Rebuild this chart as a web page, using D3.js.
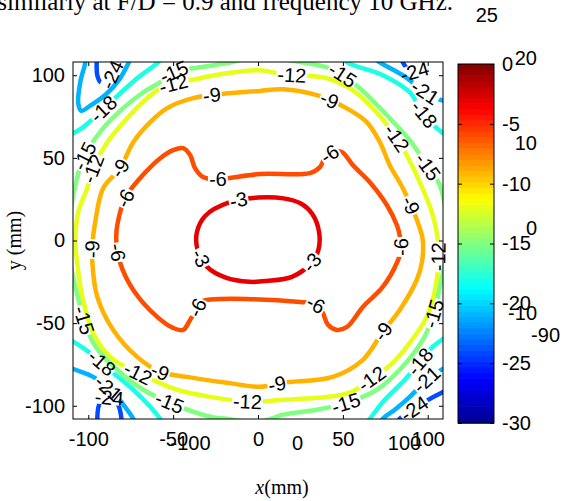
<!DOCTYPE html>
<html>
<head>
<meta charset="utf-8">
<script src="https://cdn.jsdelivr.net/npm/d3@7"></script>
<style>
  body { margin: 0; background: #fff; }
  svg { display: block; }
</style>
</head>
<body>
<div id="chart"></div>
<script>
// contour levels and tick labels
const levels = [-3, -6, -9, -12, -15, -18, -21, -24];
const xTicks = [-100, -50, 0, 50, 100];
const yTicks = [-100, -50, 0, 50, 100];
const cbTicks = [0, -5, -10, -15, -20, -25, -30];
const cbRange = [-30, 0];
// stray labels of a second figure printed on top
const ghostXTicks = [-100, 0, 100];
const ghostCbTicks = [20, 10, 0, -10];

// contour lines, in mm [x, y]
const c3 = [[0,26],[15,25.5],[25,22.5],[32,16],[36,5],[35.5,-6],[31,-14],[20,-22],[5,-24.5],[-5,-25],
  [-19,-22.5],[-30,-16],[-35.5,-6],[-36,5],[-31,15],[-17,23]];
const c6 = [[1,40.2],[30.6,40.8],[36.5,44.4],[39.4,49.8],[44.1,53.5],[49.4,53.5],[55.9,45.6],[65.9,35.3],
  [75.9,21.5],[81.8,9.4],[83.5,3],[84.2,-5.7],[81.8,-13.6],[73.5,-28.1],[61.8,-40.2],[52.4,-52.3],
  [46.5,-54.1],[41.2,-51],[38.2,-43.8],[34.7,-39],[24.7,-37.2],[-34.1,-37.2],[-35.9,-40.8],[-40,-48],
  [-44.1,-54.1],[-50,-52.9],[-59.4,-46.2],[-73.5,-29.9],[-81.2,-13.6],[-83.5,0],[-82.9,9.4],[-78.2,25.7],
  [-69.4,37.8],[-57.6,49.8],[-50,54.7],[-44.1,55.9],[-40,51.7],[-37.1,43.8],[-32.4,38.4],[-24.1,37.2]];
const c9 = [[1,90.5],[14.7,91.5],[34.7,87.9],[54.1,78.9],[64.1,71.6],[71.8,59.5],[77.6,45.6],[85.3,31.7],
  [95.3,7.6],[97.1,0],[96.5,-13.6],[93.5,-23.9],[83.5,-42],[73.5,-55.3],[61.8,-72.2],[44.1,-82.5],
  [14.7,-86.1],[1,-88.5],[-18.2,-86.1],[-41.8,-82.5],[-57.6,-79.5],[-71.2,-70.4],[-85.3,-54.1],
  [-94.7,-34.1],[-97.6,-13.6],[-97.6,-2.7],[-95.9,11.2],[-91.2,31.7],[-81.2,43.8],[-73.5,59.5],
  [-63.5,71.6],[-53.5,80.1],[-38.2,86.1],[-22.4,88.5]];
const c12 = [[1,103],[14.7,100.5],[40.6,98.2],[54.1,92.1],[65.9,81.9],[81.8,61.9],[87.6,51.7],[95.3,35.3],
  [102.4,17.2],[105.9,0.3],[105.3,-23.9],[99.4,-46.2],[89.4,-61.9],[79.4,-74],[67.6,-83.1],[54.1,-92.1],
  [34.7,-95.2],[14.7,-96.4],[-4.7,-97.6],[-28.2,-94.6],[-47.6,-90.3],[-59.4,-85.5],[-71.2,-80.1],
  [-87.1,-70.4],[-97.1,-55.9],[-103.5,-34.1],[-106.5,-13.6],[-107.6,-0.9],[-105.9,17.2],[-100.6,31.7],
  [-97,44],[-88.8,59.5],[-77.1,74],[-65.3,86.1],[-55.9,92.7],[-34.1,98.2],[-18.2,101.2]];
const c15 = [[0,111],[24.7,108],[42.4,104.2],[50,100],[60,92.1],[77.6,74],[89.4,60.7],[99.4,45.6],
  [107.1,33.5],[112,0],[107.1,-28.1],[102.9,-46.2],[97.1,-60.1],[83.5,-78.2],[70,-90.3],[52.4,-98.2],
  [34.7,-102.4],[14.7,-105.4],[0,-110],[-18.2,-107.9],[-28.2,-106.6],[-51.8,-98.2],[-67.6,-90.3],
  [-82.9,-78.2],[-97.1,-61.9],[-107.6,-28.1],[-112,0],[-107.6,33.5],[-102.9,49.8],[-91.2,68],
  [-79.4,80.1],[-67.6,89.7],[-57.6,95.8],[-50,101.8],[-34.1,104.8],[-18.2,107.3]];
const c18TL = [[-113,63],[-107.6,65.6],[-102.9,68.6],[-82.4,87.9],[-71.2,98.2],[-59.4,107.3],[-54,113]];
const c18BL = [[-113,-59],[-107.6,-61.9],[-99,-68],[-85.3,-80.1],[-73.5,-90.3],[-63.5,-100.6],[-57.6,-107.9],[-54,-113]];
const c18BR = [[113,-57],[108.2,-60.1],[102.9,-64.4],[95.3,-73.4],[86.5,-84.3],[74.7,-96.4],[65.9,-107.9],[62,-113]];
const c18TR = [[48,113],[52.4,107.9],[73.5,100],[89.4,89.7],[96.5,78],[108.2,65.6],[113,63]];
const c21TL = [[-101.8,113],[-101.8,107.6],[-104.7,96],[-105.9,83],[-104.1,78.5],[-98.8,81.6],[-90,88],[-82,97],[-76,108],[-74,113]];
const c21BL = [[-113,-76],[-107.6,-78.2],[-97.1,-82.5],[-85.3,-92.1],[-77.1,-102.4],[-73.5,-107.9],[-72,-113]];
const c21BR = [[113,-76],[108.2,-78.2],[101.2,-82.5],[89.4,-94.6],[80.6,-102.4],[73.5,-107.9],[71,-113]];
const c21TR = [[66,113],[70,109],[85.3,100],[99.4,89.1],[108.2,84.9],[113,83]];
const c24TL = [[-94.7,113],[-94.7,100],[-92.4,95.5],[-88.2,96.7],[-85,103],[-83,113]];
const c24BL = [[-94.7,-113],[-92.9,-97.6],[-87.1,-95.2],[-82.4,-99.4],[-80,-113]];
const c24BR = [[113,-90],[108.2,-92.1],[98.2,-97.6],[89.4,-103.6],[83.5,-107.9],[81,-113]];
const c24TR = [[84,113],[85.3,107.9],[90.6,101.8],[96.5,106],[101,113]];

const contourLines = [
  {level: -3, pts: c3, closed: true},
  {level: -6, pts: c6, closed: true},
  {level: -9, pts: c9, closed: true},
  {level: -12, pts: c12, closed: true},
  {level: -15, pts: c15, closed: true},
  {level: -18, pts: c18TL}, {level: -18, pts: c18BL}, {level: -18, pts: c18BR}, {level: -18, pts: c18TR},
  {level: -21, pts: c21TL}, {level: -21, pts: c21BL}, {level: -21, pts: c21BR}, {level: -21, pts: c21TR},
  {level: -24, pts: c24TL}, {level: -24, pts: c24BL}, {level: -24, pts: c24BR}, {level: -24, pts: c24TR}
];

// inline labels: level, rough place in mm (snapped onto the line)
const contourLabels = [
  [-3,-12,25],[-3,-34,-11],[-3,32,-13],
  [-6,-24,37.5],[-6,42,53.5],[-6,-74,23],[-6,83,-4],[-6,-84,-7],[-6,-36,-41],[-6,32,-43],
  [-9,-81,44],[-9,-27,88],[-9,42,85],[-9,90,21],[-9,73,-55],[-9,11,-87],[-9,-58,-80],[-9,-98,-5],
  [-12,-93,42],[-12,-50,94],[-12,20,100],[-12,82,62],[-12,105,-10],[-12,67,-83],[-12,-6,-97],[-12,-71,-80],
  [-15,-101,50],[-15,-50,102],[-15,50,101],[-15,100,45],[-15,103,-44],[-15,52,-98],[-15,-52,-98],[-15,-105,-49],
  [-18,-91,79],[-18,95,74],[-18,97,-75],[-18,-95,-78],
  [-21,99,91],[-21,-91,-93],[-21,100,-85],
  [-24,-84,100],[-24,92,-101],[-24,-88,-96],[-24,92,103]
];

const jet = d3.scaleLinear()
  .domain([-30, -26.25, -18.75, -11.25, -3.75, 0])
  .range(["#00008f", "#0000ff", "#00ffff", "#ffff00", "#ff0000", "#800000"]);

const width = 563, height = 501;
const plot = {left: 73, top: 62, right: 443, bottom: 419};
const cb = {left: 458, right: 494, top: 64, bottom: 423};
const fmt = d => String(d);   // plain hyphen minus, as in the picture

const svg = d3.select("#chart").append("svg")
  .attr("width", width).attr("height", height)
  .attr("viewBox", [0, 0, width, height]);

const x = d3.scaleLinear().domain([-109, 109]).range([plot.left, plot.right]);
const y = d3.scaleLinear().domain([-108, 108]).range([plot.bottom, plot.top]);

const defs = svg.append("defs");
defs.append("clipPath").attr("id", "clip")
  .append("rect")
  .attr("x", plot.left).attr("y", plot.top)
  .attr("width", plot.right - plot.left).attr("height", plot.bottom - plot.top);

// caption line, cut at the top of the picture
svg.append("text")
  .attr("x", 453).attr("y", 10)
  .attr("text-anchor", "end")
  .style("font-family", "'Liberation Serif', 'Times New Roman', serif")
  .style("font-size", "25px")
  .text("similarly at F/D = 0.9 and frequency 10 GHz.");

/*********************************************/
/*              contour lines                */
/*********************************************/
const masks = {};
levels.forEach(lv => {
  masks[lv] = defs.append("mask")
    .attr("id", "mask" + (-lv))
    .attr("maskUnits", "userSpaceOnUse")
    .attr("x", 0).attr("y", 0).attr("width", width).attr("height", height);
  masks[lv].append("rect").attr("width", width).attr("height", height).attr("fill", "white");
});

const lineGroup = svg.append("g").attr("clip-path", "url(#clip)");

const paths = contourLines.map(c => {
  const gen = d3.line()
    .x(d => x(d[0])).y(d => y(d[1]))
    .curve(c.closed ? d3.curveCatmullRomClosed.alpha(0.5) : d3.curveCatmullRom.alpha(0.5));
  const p = lineGroup.append("g").attr("mask", `url(#mask${-c.level})`)
    .append("path")
    .attr("d", gen(c.pts))
    .attr("fill", "none")
    .attr("stroke", jet(c.level))
    .attr("stroke-width", 4.5)
    .attr("stroke-linejoin", "round");
  return {level: c.level, node: p.node()};
});

// sample the drawn curves for label placement
const samples = paths.map(p => {
  const len = p.node.getTotalLength();
  const pts = [];
  for (let s = 0; s <= len; s += 1.5) {
    const q = p.node.getPointAtLength(s);
    pts.push([q.x, q.y]);
  }
  return {level: p.level, pts};
});

const labelGroup = svg.append("g");
contourLabels.forEach(([lv, mx, my]) => {
  const px = x(mx), py = y(my);
  let best = null;
  samples.filter(s => s.level === lv).forEach(s => {
    s.pts.forEach((q, i) => {
      const d = (q[0] - px) ** 2 + (q[1] - py) ** 2;
      if (!best || d < best.d) best = {d, i, pts: s.pts};
    });
  });
  if (!best) return;
  const a = best.pts[Math.max(0, best.i - 4)];
  const b = best.pts[Math.min(best.pts.length - 1, best.i + 4)];
  let ang = Math.atan2(b[1] - a[1], b[0] - a[0]) * 180 / Math.PI;
  if (ang > 90) ang -= 180;
  if (ang < -90) ang += 180;
  const [cx, cy] = best.pts[best.i];
  const t = labelGroup.append("text")
    .attr("transform", `translate(${cx},${cy}) rotate(${ang})`)
    .attr("text-anchor", "middle")
    .attr("dy", "0.35em")
    .style("font-family", "'Liberation Sans', Arial, sans-serif")
    .style("font-size", "20px")
    .text(fmt(lv));
  const w = t.node().getComputedTextLength();
  masks[lv].append("rect")
    .attr("x", -w / 2 - 1).attr("y", -7)
    .attr("width", w + 2).attr("height", 14)
    .attr("transform", `translate(${cx},${cy}) rotate(${ang})`)
    .attr("fill", "black");
});

/*********************************************/
/*              axes                         */
/*********************************************/
const tickFont = g => g.selectAll("text")
  .style("font-family", "'Liberation Sans', Arial, sans-serif")
  .style("font-size", "20px")
  .attr("fill", "#000");

svg.append("g")
  .attr("transform", `translate(0,${plot.bottom})`)
  .call(d3.axisBottom(x).tickValues(xTicks).tickFormat(fmt).tickSizeInner(-4).tickSizeOuter(0).tickPadding(13))
  .call(g => g.select(".domain").remove())
  .call(tickFont);
svg.append("g")
  .attr("transform", `translate(0,${plot.top})`)
  .call(d3.axisTop(x).tickValues(xTicks).tickSizeInner(-4).tickSizeOuter(0).tickFormat(""))
  .call(g => g.select(".domain").remove());
svg.append("g")
  .attr("transform", `translate(${plot.left},0)`)
  .call(d3.axisLeft(y).tickValues(yTicks).tickFormat(fmt).tickSizeInner(-4).tickSizeOuter(0).tickPadding(8))
  .call(g => g.select(".domain").remove())
  .call(tickFont);
svg.append("g")
  .attr("transform", `translate(${plot.right},0)`)
  .call(d3.axisRight(y).tickValues(yTicks).tickSizeInner(-4).tickSizeOuter(0).tickFormat(""))
  .call(g => g.select(".domain").remove());

svg.append("rect")
  .attr("x", plot.left).attr("y", plot.top)
  .attr("width", plot.right - plot.left).attr("height", plot.bottom - plot.top)
  .attr("fill", "none").attr("stroke", "#000").attr("stroke-width", 1);

// stray x labels of the overlapping figure
const gx = d3.scaleLinear().domain([-100, 100]).range([190, 404]);
svg.append("g")
  .attr("transform", `translate(0,${plot.bottom})`)
  .call(d3.axisBottom(gx).tickValues(ghostXTicks).tickFormat(fmt).tickSize(0).tickPadding(17))
  .call(g => g.select(".domain").remove())
  .call(tickFont);

// axis titles
const xt = svg.append("text")
  .attr("x", 282).attr("y", 494)
  .attr("text-anchor", "middle")
  .style("font-family", "'Liberation Serif', 'Times New Roman', serif")
  .style("font-size", "20px");
xt.append("tspan").style("font-style", "italic").text("x");
xt.append("tspan").text("(mm)");

svg.append("text")
  .attr("transform", `translate(21,${(plot.top + plot.bottom) / 2}) rotate(-90)`)
  .attr("text-anchor", "middle")
  .style("font-family", "'Liberation Serif', 'Times New Roman', serif")
  .style("font-size", "20px")
  .text("y (mm)");

/*********************************************/
/*              colorbar                     */
/*********************************************/
const c = d3.scaleLinear().domain(cbRange).range([cb.bottom, cb.top]);
const nBands = 64;
const bands = d3.range(nBands).map(i => cbRange[0] + (i + 0.5) * (cbRange[1] - cbRange[0]) / nBands);
const bandH = (cb.bottom - cb.top) / nBands;
svg.append("g").selectAll("rect")
  .data(bands)
  .join("rect")
  .attr("x", cb.left)
  .attr("y", d => c(d) - bandH / 2)
  .attr("width", cb.right - cb.left)
  .attr("height", bandH + 0.6)
  .attr("fill", d => jet(d));

svg.append("g")
  .attr("transform", `translate(${cb.right},0)`)
  .call(d3.axisRight(c).tickValues(cbTicks).tickFormat(fmt).tickSizeInner(-4).tickSizeOuter(0).tickPadding(8))
  .call(g => g.select(".domain").remove())
  .call(tickFont);
svg.append("g")
  .attr("transform", `translate(${cb.left},0)`)
  .call(d3.axisLeft(c).tickValues(cbTicks).tickSizeInner(-4).tickSizeOuter(0).tickFormat(""))
  .call(g => g.select(".domain").remove());
svg.append("rect")
  .attr("x", cb.left).attr("y", cb.top)
  .attr("width", cb.right - cb.left).attr("height", cb.bottom - cb.top)
  .attr("fill", "none").attr("stroke", "#000").attr("stroke-width", 1);

// stray colorbar labels of the overlapping figure
const gc = d3.scaleLinear().domain([-10, 20]).range([313, 58]);
svg.append("g")
  .attr("transform", "translate(537,0)")
  .call(d3.axisLeft(gc).tickValues(ghostCbTicks).tickFormat(fmt).tickSize(0).tickPadding(0))
  .call(g => g.select(".domain").remove())
  .call(tickFont);
svg.append("text")
  .attr("x", 498).attr("y", gc(25)).attr("dy", "0.32em")
  .attr("text-anchor", "end")
  .style("font-family", "'Liberation Sans', Arial, sans-serif")
  .style("font-size", "20px")
  .text("25");
svg.append("text")
  .attr("x", 560).attr("y", 336).attr("dy", "0.32em")
  .attr("text-anchor", "end")
  .style("font-family", "'Liberation Sans', Arial, sans-serif")
  .style("font-size", "20px")
  .text("-90");
</script>
</body>
</html>
